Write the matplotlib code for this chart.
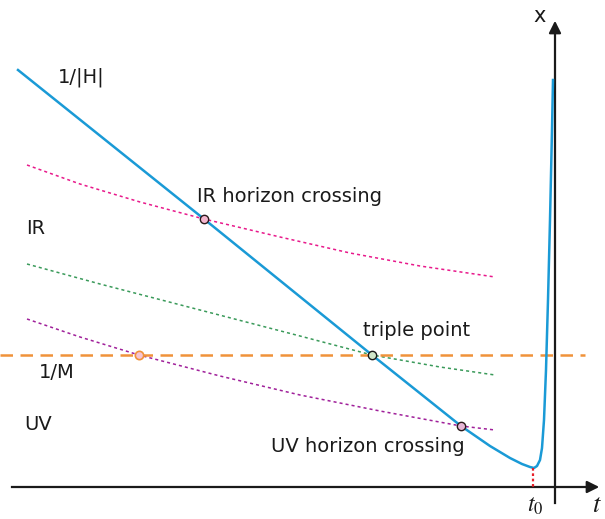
import numpy as np
import matplotlib.pyplot as plt

plt.rcParams['mathtext.fontset'] = 'stix'

# curves (horizontal = time, vertical = length scale, image units)
h_t = [18, 204, 372, 461, 490, 510, 522, 530, 534, 537, 540, 542, 544, 546, 548, 550, 552, 553]
h_x = [70, 219, 355, 426, 446, 458, 464, 467, 468, 466, 460, 448, 420, 370, 300, 220, 130, 80]

ir_t = [27, 80, 140, 204, 280, 350, 420, 495]
ir_x = [165, 184, 202, 219, 237, 253, 266, 277]

mid_t = [27, 100, 200, 300, 372, 440, 495]
mid_x = [264, 284, 310, 336, 355, 367, 375]

uv_t = [27, 80, 139, 220, 300, 380, 461, 495]
uv_x = [319, 337, 355, 376, 395, 411, 426, 430]

m_level = 355
t0 = 533
x_min = 468

crossings = {'IR': (204, 219), 'triple': (372, 355), 'UV': (461, 426), 'M': (139, 355)}

fig = plt.figure(figsize=(6.05, 5.19), dpi=100)
ax = fig.add_axes([0, 0, 1, 1])
ax.set_xlim(0, 605)
ax.set_ylim(519, 0)
ax.axis('off')

font = 'DejaVu Sans'

# axes with arrows
ax.plot([12, 592], [487, 487], color='#1a1a1a', lw=1.6)
ax.plot([555, 555], [503, 28], color='#1a1a1a', lw=1.6)
ax.annotate('', xy=(602, 487), xytext=(588, 487),
            arrowprops=dict(arrowstyle='-|>', color='#1a1a1a', lw=1.6, mutation_scale=18))
ax.annotate('', xy=(555, 18), xytext=(555, 32),
            arrowprops=dict(arrowstyle='-|>', color='#1a1a1a', lw=1.6, mutation_scale=18))

# dotted horizon curves
ax.plot(ir_t, ir_x, color='#e8198b', lw=1.1, ls=(0, (2, 2)))
ax.plot(mid_t, mid_x, color='#3a9a5a', lw=1.1, ls=(0, (2, 2)))
ax.plot(uv_t, uv_x, color='#a0209a', lw=1.1, ls=(0, (2, 2)))

# 1/M level
ax.plot([0, 585], [m_level, m_level], color='#f0923a', lw=1.8, ls=(0, (5, 3)))

# Hubble radius
ax.plot(h_t, h_x, color='#1a9ad6', lw=1.8)

# t0 marker
ax.plot([t0, t0], [x_min, 487], color='#e8202a', lw=1.6, ls=(0, (1.2, 1.2)))

# crossing points
ax.plot(*crossings['IR'], 'o', ms=6, mfc='#f4b6cf', mec='#2a1a1a', mew=1)
ax.plot(*crossings['triple'], 'o', ms=6, mfc='#cfe6c9', mec='#1a1a1a', mew=1)
ax.plot(*crossings['UV'], 'o', ms=6, mfc='#e6b6d6', mec='#2a1a1a', mew=1)
ax.plot(*crossings['M'], 'o', ms=6, mfc='#f6c4d4', mec='#f0923a', mew=1.2)

fs = 14
tc = '#1a1a1a'
ax.text(58, 77, '1/|H|', fontsize=fs, family=font, va='center', color=tc)
ax.text(197, 196, 'IR horizon crossing', fontsize=fs, family=font, va='center', color=tc)
ax.text(26, 228, 'IR', fontsize=fs, family=font, va='center', color=tc)
ax.text(363, 330, 'triple point', fontsize=fs, family=font, va='center', color=tc)
ax.text(39, 372, '1/M', fontsize=fs, family=font, va='center', color=tc)
ax.text(24, 424, 'UV', fontsize=fs, family=font, va='center', color=tc)
ax.text(271, 447, 'UV horizon crossing', fontsize=fs, family=font, va='center', color=tc)
ax.text(540, 16, 'x', fontsize=fs + 1, family=font, va='center', ha='center', color=tc)
ax.text(597, 505, '$t$', fontsize=19, va='center', ha='center', color=tc)
ax.text(535, 505, '$t_0$', fontsize=17, va='center', ha='center', color=tc)

fig.savefig('out.png', dpi=100)
